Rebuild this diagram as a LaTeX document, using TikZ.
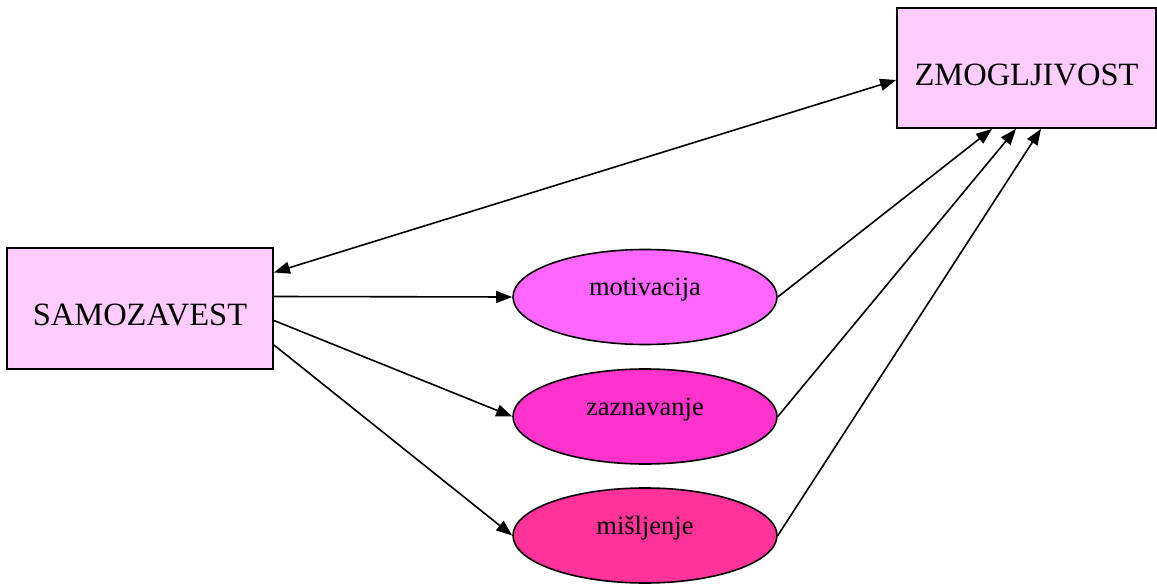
\documentclass[tikz,border=0pt]{standalone}
\usepackage{fontspec}
\setmainfont{Liberation Serif}
\usetikzlibrary{arrows.meta,shapes.geometric}

\definecolor{boxpink}{HTML}{FFCCFF}
\definecolor{motpink}{HTML}{FF66FF}
\definecolor{zazpink}{HTML}{FF33CC}
\definecolor{mispink}{HTML}{FF3399}

\newcommand{\boxtext}[1]{\raisebox{-17.5pt}[0pt][0pt]{#1}}
\newcommand{\ovaltext}[1]{\raisebox{1pt}[0pt][0pt]{#1}}

\begin{document}
\begin{tikzpicture}[
        x=1pt, y=-1pt,                % pixel-like units, y pointing down
        box/.style={
            rectangle,
            draw,
            line width=1.8pt,
            fill=boxpink,
            inner sep=0pt,
            font=\fontsize{32.5}{36}\selectfont
        },
        oval/.style={
            ellipse,
            draw,
            line width=1.6pt,
            minimum width=264pt,
            minimum height=95pt,
            inner sep=0pt,
            font=\fontsize{26.5}{30}\selectfont
        },
        >={Triangle[length=16pt,width=12pt]},
        arrow/.style={->, line width=1.6pt}
    ]
        \useasboundingbox (0,0) rectangle (1157,585);

        % nodes
        \node (sam) [box, minimum width=266pt, minimum height=121pt] at (140,308.5) {\boxtext{SAMOZAVEST}};
        \node (zmo) [box, minimum width=259pt, minimum height=120pt] at (1026.5,68) {\boxtext{ZMOGLJIVOST}};
        \node (mot) [oval, fill=motpink] at (645,297) {\ovaltext{motivacija}};
        \node (zaz) [oval, fill=zazpink] at (645,416.5) {\ovaltext{zaznavanje}};
        \node (mis) [oval, fill=mispink] at (645,535.5) {\ovaltext{mišljenje}};

        % edges
        \draw[arrow, <->] ([yshift=36pt]sam.east) -- ([yshift=-12pt]zmo.west);
        \draw[arrow] ([yshift=12pt]sam.east) -- (mot.west);
        \draw[arrow] ([yshift=-12pt]sam.east) -- (zaz.west);
        \draw[arrow] ([yshift=-36.5pt]sam.east) -- (mis.west);
        \draw[arrow] (mot.east) -- ([xshift=-34.5pt]zmo.south);
        \draw[arrow] (zaz.east) -- ([xshift=-10.5pt]zmo.south);
        \draw[arrow] (mis.east) -- ([xshift=14.5pt]zmo.south);
    \end{tikzpicture}
\end{document}
